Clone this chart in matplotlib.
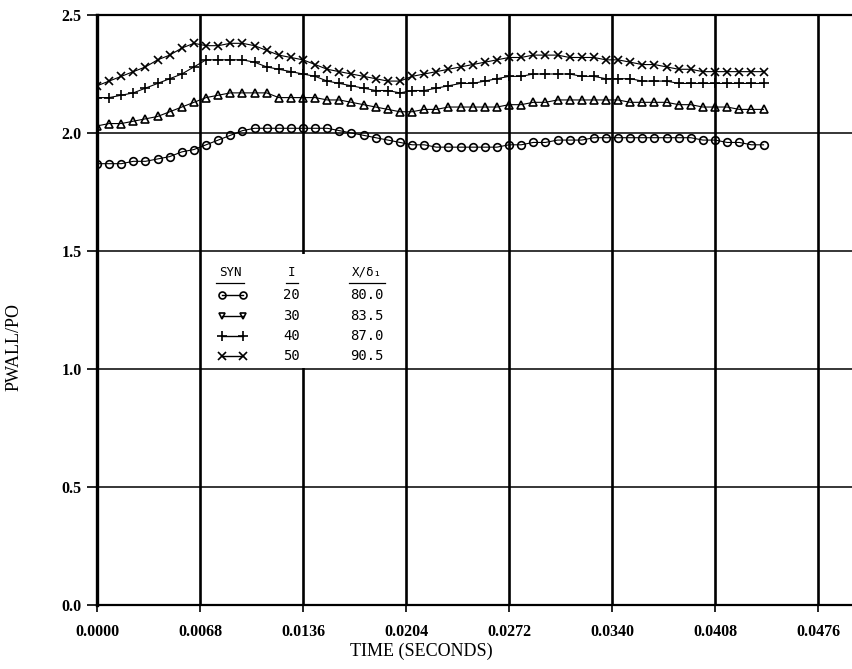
import matplotlib
matplotlib.use("Agg")
import matplotlib.pyplot as plt
from matplotlib.patches import Rectangle

# sample times (s)
time_s = [0.0000, 0.0008, 0.0016, 0.0024, 0.0032, 0.0040, 0.0048, 0.0056,
          0.0064, 0.0072, 0.0080, 0.0088, 0.0096, 0.0104, 0.0112, 0.0120,
          0.0128, 0.0136, 0.0144, 0.0152, 0.0160, 0.0168, 0.0176, 0.0184,
          0.0192, 0.0200, 0.0208, 0.0216, 0.0224, 0.0232, 0.0240, 0.0248,
          0.0256, 0.0264, 0.0272, 0.0280, 0.0288, 0.0296, 0.0304, 0.0312,
          0.0320, 0.0328, 0.0336, 0.0344, 0.0352, 0.0360, 0.0368, 0.0376,
          0.0384, 0.0392, 0.0400, 0.0408, 0.0416, 0.0424, 0.0432, 0.0440]

# PWALL/PO for each station I
p_i20 = [1.87, 1.87, 1.87, 1.88, 1.88, 1.89, 1.90, 1.92, 1.93, 1.95, 1.97, 1.99,
         2.01, 2.02, 2.02, 2.02, 2.02, 2.02, 2.02, 2.02, 2.01, 2.00, 1.99, 1.98,
         1.97, 1.96, 1.95, 1.95, 1.94, 1.94, 1.94, 1.94, 1.94, 1.94, 1.95, 1.95,
         1.96, 1.96, 1.97, 1.97, 1.97, 1.98, 1.98, 1.98, 1.98, 1.98, 1.98, 1.98,
         1.98, 1.98, 1.97, 1.97, 1.96, 1.96, 1.95, 1.95]
p_i30 = [2.03, 2.04, 2.04, 2.05, 2.06, 2.07, 2.09, 2.11, 2.13, 2.15, 2.16, 2.17,
         2.17, 2.17, 2.17, 2.15, 2.15, 2.15, 2.15, 2.14, 2.14, 2.13, 2.12, 2.11,
         2.10, 2.09, 2.09, 2.10, 2.10, 2.11, 2.11, 2.11, 2.11, 2.11, 2.12, 2.12,
         2.13, 2.13, 2.14, 2.14, 2.14, 2.14, 2.14, 2.14, 2.13, 2.13, 2.13, 2.13,
         2.12, 2.12, 2.11, 2.11, 2.11, 2.10, 2.10, 2.10]
p_i40 = [2.15, 2.15, 2.16, 2.17, 2.19, 2.21, 2.23, 2.25, 2.28, 2.31, 2.31, 2.31,
         2.31, 2.30, 2.28, 2.27, 2.26, 2.25, 2.24, 2.22, 2.21, 2.20, 2.19, 2.18,
         2.18, 2.17, 2.18, 2.18, 2.19, 2.20, 2.21, 2.21, 2.22, 2.23, 2.24, 2.24,
         2.25, 2.25, 2.25, 2.25, 2.24, 2.24, 2.23, 2.23, 2.23, 2.22, 2.22, 2.22,
         2.21, 2.21, 2.21, 2.21, 2.21, 2.21, 2.21, 2.21]
p_i50 = [2.20, 2.22, 2.24, 2.26, 2.28, 2.31, 2.33, 2.36, 2.38, 2.37, 2.37, 2.38,
         2.38, 2.37, 2.35, 2.33, 2.32, 2.31, 2.29, 2.27, 2.26, 2.25, 2.24, 2.23,
         2.22, 2.22, 2.24, 2.25, 2.26, 2.27, 2.28, 2.29, 2.30, 2.31, 2.32, 2.32,
         2.33, 2.33, 2.33, 2.32, 2.32, 2.32, 2.31, 2.31, 2.30, 2.29, 2.29, 2.28,
         2.27, 2.27, 2.26, 2.26, 2.26, 2.26, 2.26, 2.26]

stations = ["20", "30", "40", "50"]
x_over_delta = ["80.0", "83.5", "87.0", "90.5"]
x_ticks = [0.0000, 0.0068, 0.0136, 0.0204, 0.0272, 0.0340, 0.0408, 0.0476]
y_ticks = [0.0, 0.5, 1.0, 1.5, 2.0, 2.5]

serif = "Liberation Serif"
mono = "DejaVu Sans Mono"

fig = plt.figure(figsize=(8.52, 6.69), dpi=100)
ax = fig.add_axes([97 / 852, 64 / 669, 755 / 852, 590 / 669])

ax.set_xlim(0, 0.0476 + 0.00224)
ax.set_ylim(0, 2.5)

# grid - vertical lines heavier than horizontal ones
for xt in x_ticks[1:]:
    ax.axvline(xt, color="black", lw=1.9, zorder=1)
for yt in y_ticks[1:-1]:
    ax.axhline(yt, color="black", lw=1.1, zorder=1)

# the 0.0136 grid line is blanked behind the symbol table
ax.add_patch(Rectangle((0.265, 0.402), 0.02, 0.193, transform=ax.transAxes,
                       facecolor="white", edgecolor="none", zorder=2))

styles = [
    (p_i20, "o", 5.5),
    (p_i30, "^", 5.5),
    (p_i40, "+", 7.5),
    (p_i50, "x", 6.0),
]
for vals, mk, ms in styles:
    ax.plot(time_s, vals, color="black", lw=0.8, marker=mk, ms=ms,
            mfc="none", mec="black", mew=1.2, zorder=3)

# symbol table
hdr_y = 0.564
ax.text(0.176, hdr_y, "SYN", transform=ax.transAxes, family=mono, fontsize=9,
        ha="center", va="center", zorder=4)
ax.text(0.258, hdr_y, "I", transform=ax.transAxes, family=mono, fontsize=9,
        ha="center", va="center", zorder=4)
ax.text(0.358, hdr_y, "X/δ₁", transform=ax.transAxes, family=mono, fontsize=9,
        ha="center", va="center", zorder=4)
for x0, x1 in [(0.158, 0.195), (0.250, 0.266), (0.334, 0.382)]:
    ax.plot([x0, x1], [0.546, 0.546], transform=ax.transAxes, color="black",
            lw=0.9, zorder=4)

row_y = [0.525, 0.490, 0.456, 0.422]
leg_marks = [("o", 5), ("v", 5), ("+", 7), ("x", 5.5)]
for yy, (mk, ms), st, xd in zip(row_y, leg_marks, stations, x_over_delta):
    ax.plot([0.166, 0.194], [yy, yy], transform=ax.transAxes, color="black",
            lw=1.0, marker=mk, ms=ms, mfc="none", mec="black", mew=1.2, zorder=4)
    ax.text(0.258, yy, st, transform=ax.transAxes, family=mono, fontsize=10,
            ha="center", va="center", zorder=4)
    ax.text(0.358, yy, xd, transform=ax.transAxes, family=mono, fontsize=10,
            ha="center", va="center", zorder=4)

# axes frame
ax.spines["left"].set_linewidth(2.4)
ax.spines["bottom"].set_linewidth(1.6)
ax.spines["top"].set_linewidth(1.6)
ax.spines["right"].set_visible(False)

ax.set_xticks(x_ticks)
ax.set_xticklabels([f"{v:.4f}" for v in x_ticks])
ax.set_yticks(y_ticks)
ax.set_yticklabels([f"{v:.1f}" for v in y_ticks])
ax.tick_params(axis="both", direction="out", color="black", width=1.2)
ax.tick_params(axis="x", length=5, pad=9)
ax.tick_params(axis="y", length=7, pad=4)
for lbl in ax.get_xticklabels() + ax.get_yticklabels():
    lbl.set_family(serif)
    lbl.set_fontweight("bold")
    lbl.set_fontsize(11.5)

ax.set_xlabel("TIME (SECONDS)", family=serif, fontsize=13)
ax.xaxis.set_label_coords(0.430, -0.064)
ax.set_ylabel("PWALL/PO", family=serif, fontsize=13)
ax.yaxis.set_label_coords(-0.099, 0.437)

fig.savefig("out.png", dpi=100)
